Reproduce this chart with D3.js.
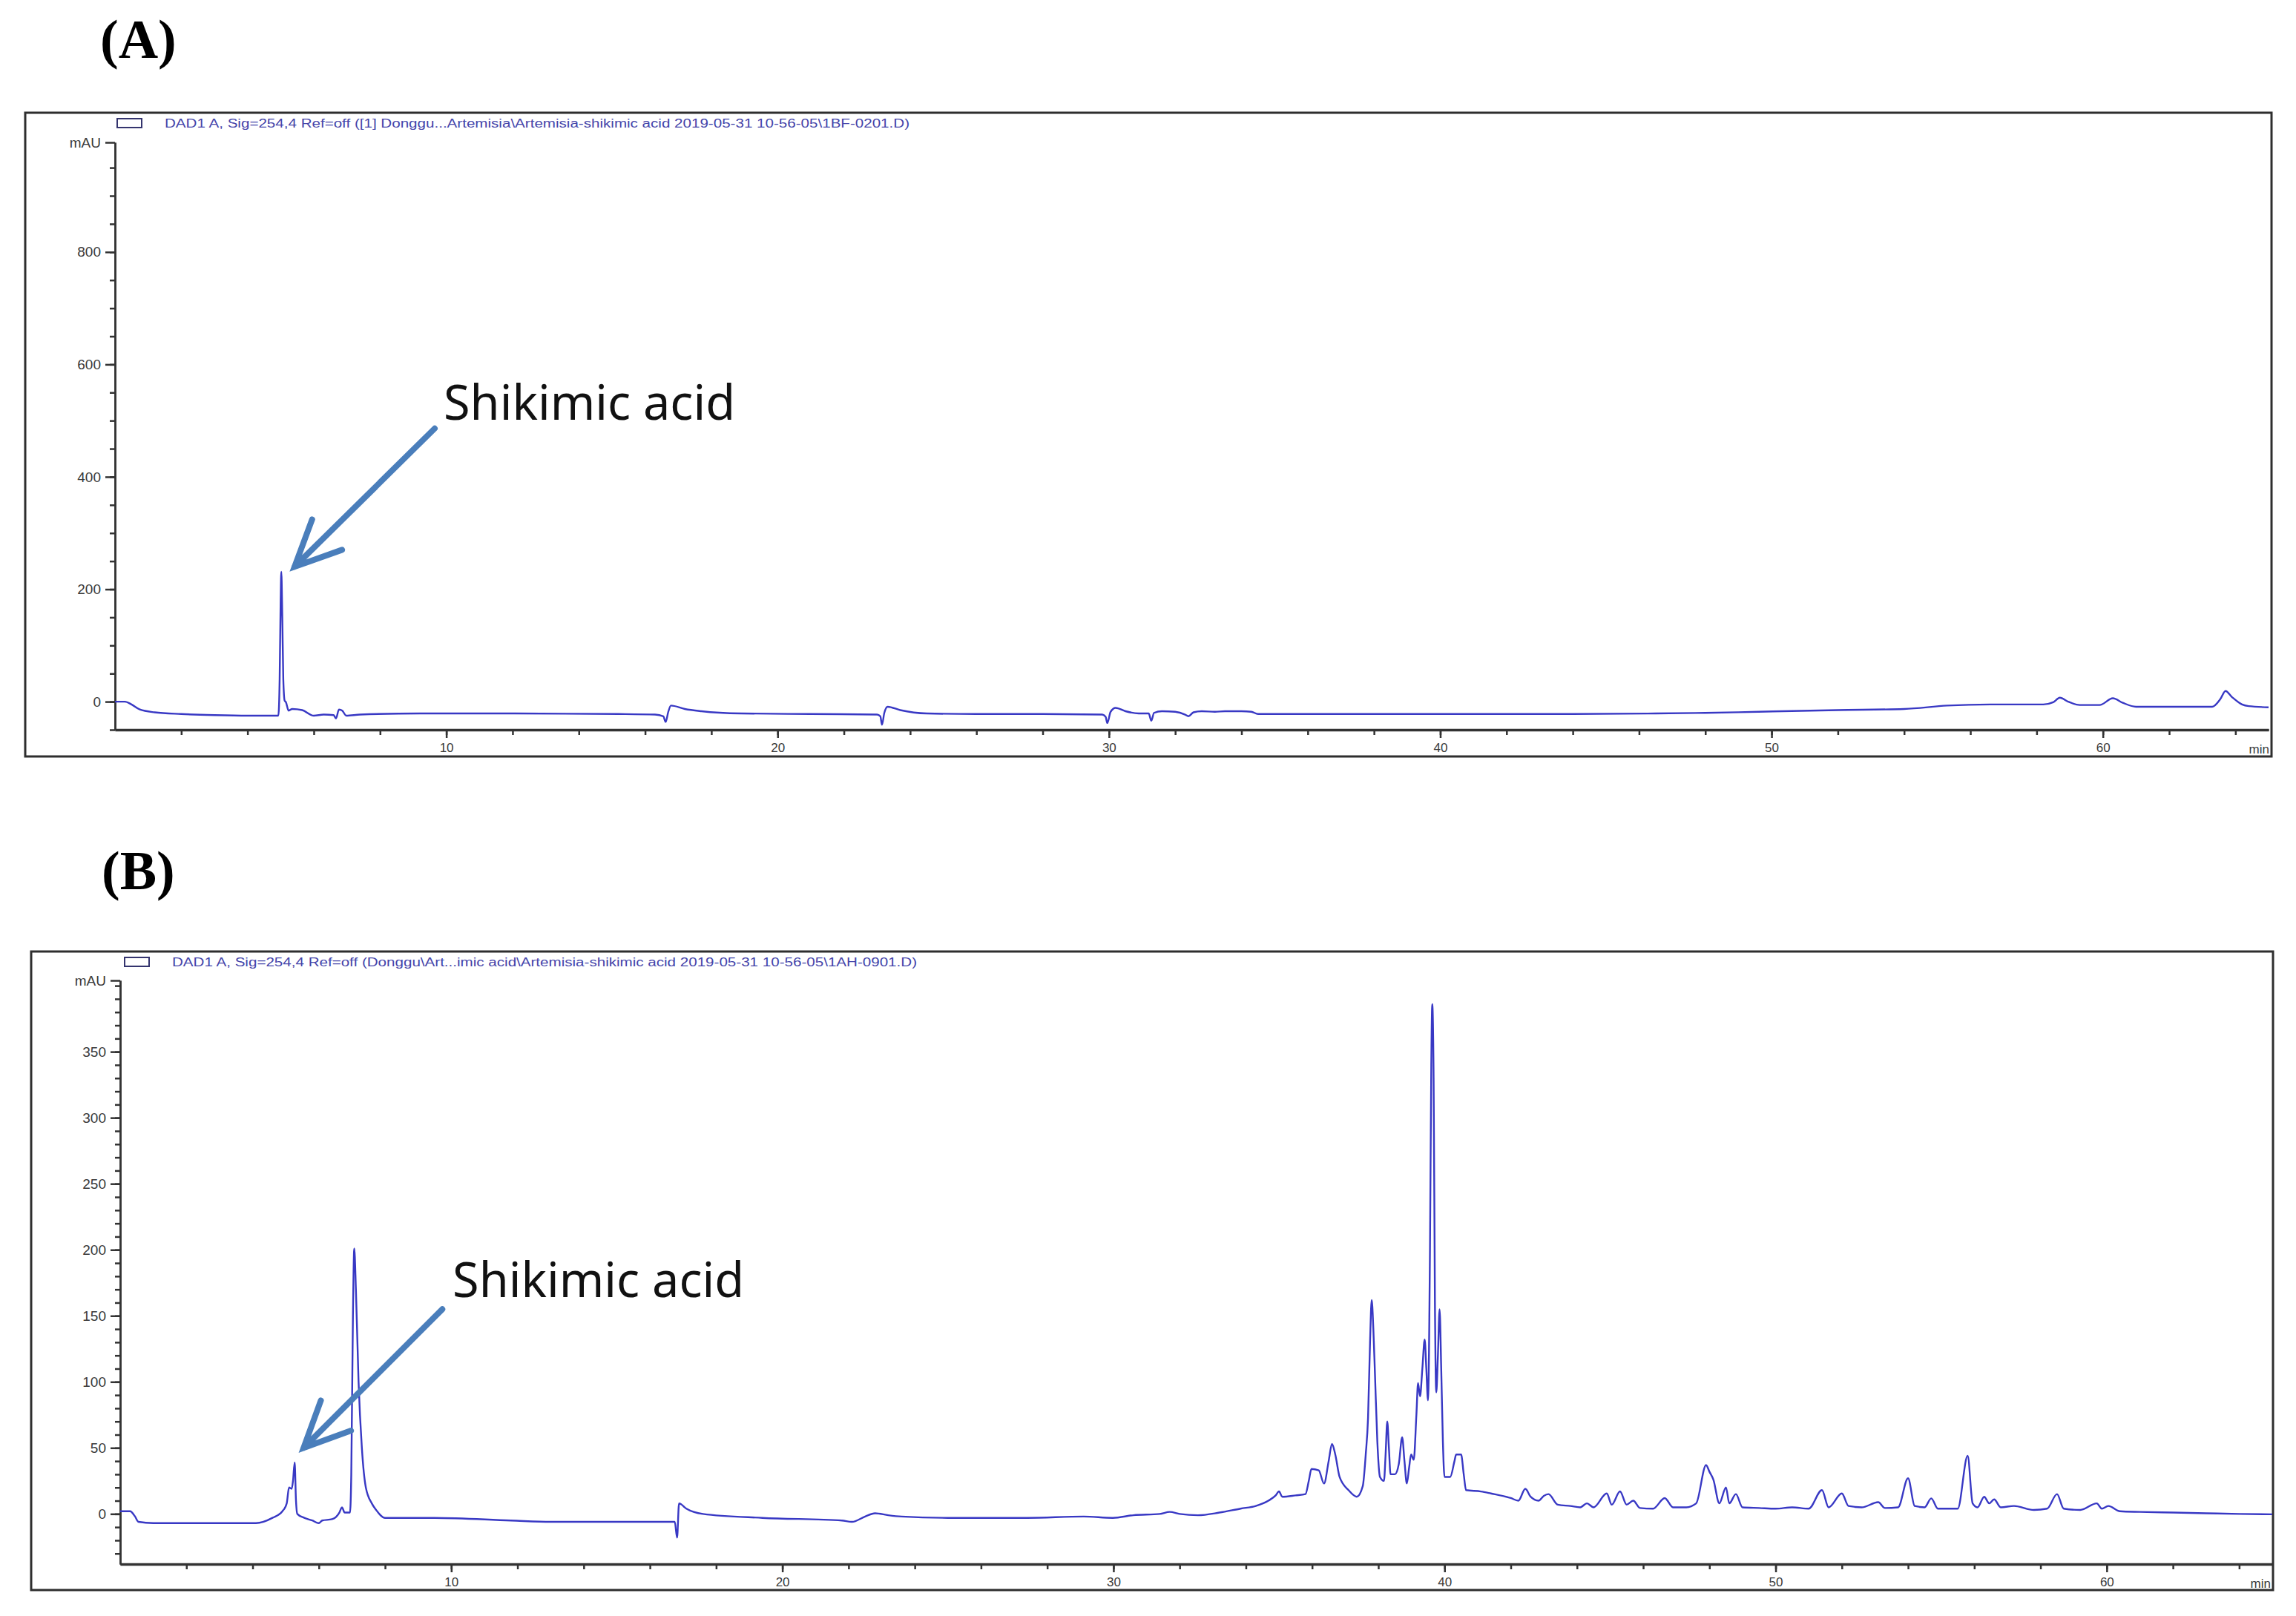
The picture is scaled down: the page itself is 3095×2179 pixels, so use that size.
<!DOCTYPE html>
<html>
<head>
<meta charset="utf-8">
<script src="https://cdn.jsdelivr.net/npm/d3@7"></script>
<style>
	body { margin: 0; background: #fff; }
	svg { display: block; }
	.tick text { font-family: 'Liberation Sans', Arial, sans-serif; fill: #3a3a3a; }
</style>
</head>
<body>
<svg width="3095" height="2179"></svg>
<script>
// chromatogram A (standard) : retention time (min) / absorbance (mAU)
const timesA = [0, 0.3, 0.5, 0.75, 1.2, 2, 3, 4, 4.93, 4.97, 5.0, 5.02, 5.05, 5.08, 5.12, 5.16, 5.24, 5.35, 5.65, 6.0, 6.3, 6.6, 6.67, 6.76, 6.86, 6.98, 7.4, 9.2, 12, 15.2, 16.3, 16.55, 16.62, 16.7, 16.78, 17.2, 17.7, 18.9, 21, 23.0, 23.1, 23.15, 23.22, 23.32, 23.7, 24.5, 26, 28, 29.8, 29.9, 29.95, 30.05, 30.2, 30.5, 30.9, 31.2, 31.28, 31.36, 31.6, 32.0, 32.3, 32.4, 32.55, 32.8, 33.2, 33.5, 34.0, 34.3, 34.5, 36, 40, 44, 46.5, 48, 49.6, 52, 54, 55.3, 56.6, 58.2, 58.5, 58.7, 58.95, 59.3, 59.9, 60.3, 60.6, 61, 62.5, 63.3, 63.55, 63.7, 63.9, 64.2, 64.4, 65];
const valuesA = [0, 0, -5, -14, -19, -22, -24, -25, -25, 40, 180, 231, 150, 40, 2, -1, -16, -13, -15, -25, -23, -24, -30, -14, -16, -25, -23, -21, -21, -22, -23, -26, -36, -18, -7, -13, -17, -21, -22, -23, -26, -41, -20, -9, -15, -21, -22, -22, -23, -27, -38, -18, -11, -17, -21, -21, -34, -20, -17, -18, -23, -26, -19, -17, -18, -17, -17, -18, -22, -22, -22, -22, -21, -20, -18, -15, -13, -7, -5, -5, -1, 7, 0, -6, -6, 6, -2, -9, -9, -9, 5, 19, 8, -5, -8, -10];

// chromatogram B (Artemisia extract)
const timesB = [0, 0.3, 0.45, 0.55, 1.0, 2, 3, 4.1, 4.6, 4.9, 5.03, 5.1, 5.18, 5.22, 5.27, 5.31, 5.35, 5.56, 5.8, 6.0, 6.1, 6.4, 6.62, 6.7, 6.78, 6.94, 6.98, 7.03, 7.07, 7.12, 7.2, 7.3, 7.42, 7.6, 7.73, 8.0, 8.5, 9.5, 11.8, 13, 16.4, 16.75, 16.82, 16.88, 17.1, 17.6, 19.4, 21.8, 22.1, 22.5, 22.8, 23.2, 23.6, 25, 27.4, 29.1, 29.98, 30.6, 31.4, 31.7, 32.0, 32.55, 33.2, 33.84, 34.3, 34.68, 34.9, 35.0, 35.1, 35.5, 35.8, 35.9, 35.98, 36.2, 36.36, 36.5, 36.6, 36.7, 36.83, 37.1, 37.35, 37.53, 37.62, 37.69, 37.75, 37.8, 37.85, 37.9, 37.97, 38.05, 38.17, 38.22, 38.27, 38.32, 38.37, 38.5, 38.62, 38.72, 38.79, 38.86, 38.93, 38.99, 39.07, 39.15, 39.2, 39.26, 39.33, 39.4, 39.45, 39.5, 39.56, 39.6, 39.63, 39.67, 39.71, 39.75, 39.8, 39.85, 39.9, 39.95, 40.0, 40.17, 40.3, 40.35, 40.5, 40.58, 40.65, 41.1, 41.4, 42.0, 42.23, 42.44, 42.6, 42.84, 43.0, 43.14, 43.42, 43.8, 44.1, 44.3, 44.5, 44.9, 45.05, 45.3, 45.5, 45.7, 45.9, 46.3, 46.65, 46.9, 47.3, 47.6, 47.9, 48.0, 48.12, 48.3, 48.5, 48.6, 48.8, 49.0, 49.5, 50, 50.5, 51, 51.4, 51.6, 52.0, 52.2, 52.6, 53.1, 53.3, 53.7, 54.0, 54.2, 54.5, 54.7, 54.9, 55.5, 55.8, 55.95, 56.1, 56.3, 56.45, 56.6, 56.8, 57.2, 57.8, 58.2, 58.5, 58.7, 59.2, 59.7, 59.85, 60.05, 60.4, 61, 62, 63, 64, 65];
const valuesB = [2, 2, -2, -6, -7, -7, -7, -7, -3, 2, 8, 20, 19, 25, 39, 10, 0, -3, -5, -7, -5, -4, 1, 5, 1, 1, 30, 150, 201, 170, 100, 50, 20, 8, 3, -3, -3, -3, -5, -6, -6, -6, -18, 8, 4, 0, -3, -5, -6, -2, 0.5, -1, -2, -3, -3, -2, -3, -1, 0, 1.5, 0, -1, 1, 4, 6, 10, 14, 17, 13, 14, 15, 25, 34, 33, 23, 40, 53, 45, 28, 18, 13, 21, 45, 73, 130, 162, 140, 105, 55, 28, 25, 45, 70, 50, 30, 30, 38, 58, 40, 23, 35, 45, 41, 75, 99, 89, 110, 132, 110, 86, 200, 340, 386, 330, 160, 92, 120, 155, 110, 55, 28, 28, 40, 45, 45, 30, 18, 17, 15.5, 12, 10, 19, 13, 10, 13.7, 15, 7, 6, 5, 8, 5, 15.5, 7, 17, 7, 10, 4.5, 4, 12, 5, 5, 8, 37, 32, 26, 8, 20, 8, 15, 5, 4.5, 4, 5, 4, 18, 5, 15.5, 6, 5, 8.9, 4.5, 5, 27, 6, 5, 11.8, 4, 4, 44, 8, 5, 13, 8, 11, 5, 6, 3, 4, 15, 4, 3, 8, 4, 6, 2, 1.5, 1, 0.5, 0, -0.3];

const xMajorTicks = [10, 20, 30, 40, 50, 60];
const xMinorTicks = d3.range(2, 65, 2);
const yMajorTicksA = [0, 200, 400, 600, 800];
const yMinorTicksA = d3.range(-50, 1000, 50);
const yMajorTicksB = [0, 50, 100, 150, 200, 250, 300, 350];
const yMinorTicksB = d3.range(-30, 404, 10);

const legendA = 'DAD1 A, Sig=254,4 Ref=off ([1] Donggu...Artemisia\\Artemisia-shikimic acid 2019-05-31 10-56-05\\1BF-0201.D)';
const legendB = 'DAD1 A, Sig=254,4 Ref=off (Donggu\\Art...imic acid\\Artemisia-shikimic acid 2019-05-31 10-56-05\\1AH-0901.D)';

const svg = d3.select('svg');
const lineColor = '#3838c4',
	arrowColor = '#4a7ebb';

function drawPanel(cfg) {
	let g = svg.append('g');

	// outer frame
	g.append('rect')
		.attr('x', cfg.frame[0]).attr('y', cfg.frame[1])
		.attr('width', cfg.frame[2] - cfg.frame[0]).attr('height', cfg.frame[3] - cfg.frame[1])
		.attr('fill', 'none').attr('stroke', '#2e2e2e').attr('stroke-width', 3);

	// panel letter
	g.append('text')
		.attr('x', cfg.letterPos[0]).attr('y', cfg.letterPos[1])
		.attr('font-family', "'Liberation Serif', 'Times New Roman', serif")
		.attr('font-weight', 'bold').attr('font-size', 74)
		.text(cfg.letter);

	// legend
	let ly = cfg.frame[1] + 14;
	g.append('rect')
		.attr('x', cfg.legendX).attr('y', ly - 6).attr('width', 33).attr('height', 12)
		.attr('fill', 'none').attr('stroke', '#34346e').attr('stroke-width', 2);
	g.append('text')
		.attr('x', cfg.legendX + 64).attr('y', ly + 6)
		.attr('font-family', "'Liberation Sans', Arial, sans-serif").attr('font-size', 16)
		.attr('fill', '#4444aa')
		.attr('textLength', 1004).attr('lengthAdjust', 'spacingAndGlyphs')
		.text(cfg.legend);

	let x = d3.scaleLinear().domain(cfg.xDomain).range(cfg.xRange);
	let y = d3.scaleLinear().domain(cfg.yDomain).range(cfg.yRange);

	// y axis: minor then major
	let yMinor = g.append('g').attr('transform', `translate(${cfg.xRange[0]},0)`)
		.call(d3.axisLeft(y).tickValues(cfg.yMinor).tickSize(7).tickSizeOuter(0).tickFormat(''));
	let yMajor = g.append('g').attr('transform', `translate(${cfg.xRange[0]},0)`)
		.call(d3.axisLeft(y).tickValues(cfg.yMajor.concat([cfg.yDomain[1]])).tickSize(13).tickSizeOuter(0).tickPadding(6)
			.tickFormat(d => d === cfg.yDomain[1] ? 'mAU' : d));
	yMajor.selectAll('text').attr('font-size', 19);

	// x axis
	let xMinor = g.append('g').attr('transform', `translate(0,${cfg.yRange[0]})`)
		.call(d3.axisBottom(x).tickValues(xMinorTicks).tickSize(7).tickSizeOuter(0).tickFormat(''));
	let xMajor = g.append('g').attr('transform', `translate(0,${cfg.yRange[0]})`)
		.call(d3.axisBottom(x).tickValues(xMajorTicks).tickSize(11).tickSizeOuter(0).tickPadding(7));
	xMajor.selectAll('text').attr('font-size', 17);
	g.append('text')
		.attr('x', cfg.frame[2] - 3).attr('y', cfg.yRange[0] + 32)
		.attr('text-anchor', 'end')
		.attr('font-family', "'Liberation Sans', Arial, sans-serif").attr('font-size', 17).attr('fill', '#3a3a3a')
		.text('min');

	[yMinor, yMajor, xMinor, xMajor].forEach(a => {
		a.selectAll('.domain, line').attr('stroke', '#333').attr('stroke-width', 2.5);
	});
	xMajor.select('.domain').attr('stroke-width', 3.5);

	// trace
	let pts = cfg.times.map((t, i) => [t, cfg.values[i]]);
	let line = d3.line().x(d => x(d[0])).y(d => y(d[1])).curve(d3.curveMonotoneX);
	g.append('path').datum(pts)
		.attr('d', line)
		.attr('fill', 'none').attr('stroke', lineColor).attr('stroke-width', 2.4)
		.attr('stroke-linejoin', 'round');

	// annotation arrow
	let tip = [x(cfg.arrowTip[0]), y(cfg.arrowTip[1])];
	let tail = [x(cfg.arrowTail[0]), y(cfg.arrowTail[1])];
	let ang = Math.atan2(tail[1] - tip[1], tail[0] - tip[0]);
	let barb = 68, spread = 25 * Math.PI / 180;
	let b1 = [tip[0] + barb * Math.cos(ang - spread), tip[1] + barb * Math.sin(ang - spread)];
	let b2 = [tip[0] + barb * Math.cos(ang + spread), tip[1] + barb * Math.sin(ang + spread)];
	g.append('path')
		.attr('d', `M${tail[0]},${tail[1]}L${tip[0]},${tip[1]}M${b1[0]},${b1[1]}L${tip[0]},${tip[1]}L${b2[0]},${b2[1]}`)
		.attr('fill', 'none').attr('stroke', arrowColor).attr('stroke-width', 8)
		.attr('stroke-linecap', 'round').attr('stroke-linejoin', 'miter');

	g.append('text')
		.attr('x', x(cfg.labelAt[0])).attr('y', y(cfg.labelAt[1]))
		.attr('font-family', "'Noto Sans', 'Noto Sans CJK KR', sans-serif").attr('font-size', 65)
		.attr('fill', '#111')
		.attr('textLength', 393).attr('lengthAdjust', 'spacingAndGlyphs')
		.text('Shikimic acid');
}

drawPanel({
	letter: '(A)', letterPos: [135, 78],
	frame: [34, 152, 3062, 1020],
	legendX: 158, legend: legendA,
	xDomain: [0, 65], xRange: [155, 3058],
	yDomain: [-50, 995], yRange: [984, 192],
	yMajor: yMajorTicksA, yMinor: yMinorTicksA,
	times: timesA, values: valuesA,
	arrowTip: [5.42, 240], arrowTail: [9.65, 486], labelAt: [9.92, 502]
});

drawPanel({
	letter: '(B)', letterPos: [137, 1199],
	frame: [42, 1283, 3064, 2144],
	legendX: 168, legend: legendB,
	xDomain: [0, 65], xRange: [162, 3063],
	yDomain: [-38, 404], yRange: [2109, 1322],
	yMajor: yMajorTicksB, yMinor: yMinorTicksB,
	times: timesB, values: valuesB,
	arrowTip: [5.54, 50], arrowTail: [9.73, 155], labelAt: [10.04, 164]
});
</script>
</body>
</html>
